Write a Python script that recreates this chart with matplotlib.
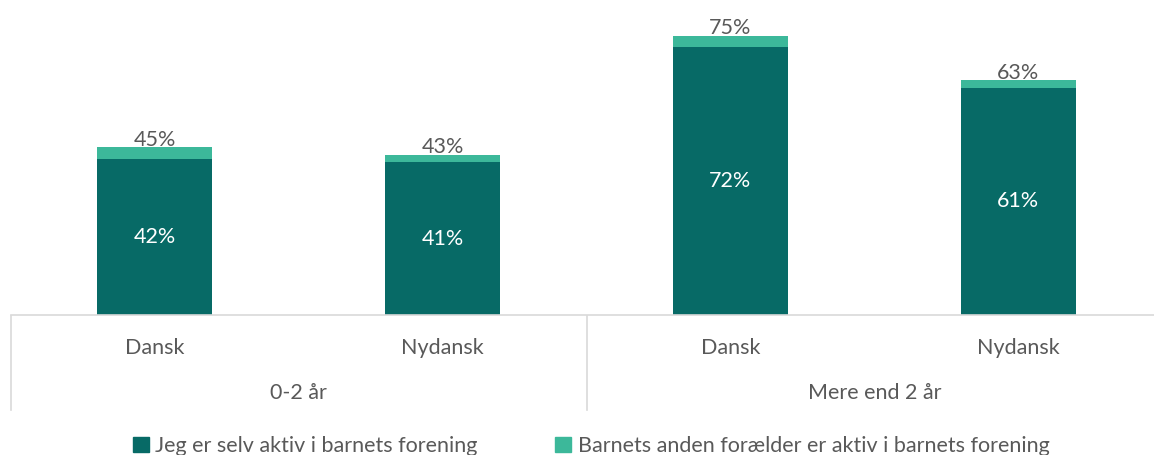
import matplotlib.pyplot as plt
from matplotlib.patches import Patch
from matplotlib.lines import Line2D

# data
grupper = ['0-2 år', 'Mere end 2 år']
kategorier = ['Dansk', 'Nydansk', 'Dansk', 'Nydansk']
selv_aktiv = [42, 41, 72, 61]
total = [45, 43, 75, 63]
serie_navne = ['Jeg er selv aktiv i barnets forening',
               'Barnets anden forælder er aktiv i barnets forening']

mork = '#076a66'
lys = '#3cb89a'
tekst = '#595959'
linje = '#d9d9d9'
fs = 15.5

plt.rcParams['font.family'] = ['Lato', 'DejaVu Sans']

fig = plt.figure(figsize=(11.54, 4.55), dpi=100)
W, H = 1154, 455
x0, x1 = 11, 1162
ax = fig.add_axes([x0 / W, 1 - 315 / H, (x1 - x0) / W, (315 - 17) / H])

anden = [t - s for t, s in zip(total, selv_aktiv)]
x = range(len(kategorier))
ax.bar(x, selv_aktiv, width=0.40, color=mork)
ax.bar(x, anden, bottom=selv_aktiv, width=0.40, color=lys)

for i in x:
    ax.text(i, selv_aktiv[i] / 2, f'{selv_aktiv[i]}%', ha='center', va='center',
            color='white', fontsize=fs)
    ax.text(i, total[i] - 0.6, f'{total[i]}%', ha='center', va='bottom',
            color=tekst, fontsize=fs)

ax.set_xlim(-0.5, 3.5)
ax.set_ylim(0, 80)
ax.set_xticks([])
ax.set_yticks([])
for side in ['top', 'right', 'left']:
    ax.spines[side].set_visible(False)
ax.spines['bottom'].set_color(linje)
ax.spines['bottom'].set_linewidth(1.2)

# kategori-etiketter og gruppe-etiketter
for i, k in enumerate(kategorier):
    px = x0 + (i + 0.5) * (x1 - x0) / 4
    fig.text(px / W, 1 - 348 / H, k, ha='center', va='center', color=tekst, fontsize=fs)
for j, g in enumerate(grupper):
    px = x0 + (j + 0.5) * (x1 - x0) / 2
    fig.text(px / W, 1 - 393 / H, g, ha='center', va='center', color=tekst, fontsize=fs)

for px in [x0, (x0 + x1) / 2]:
    fig.add_artist(Line2D([px / W, px / W], [1 - 316 / H, 1 - 410 / H],
                          color=linje, linewidth=1.2))

handles = [Patch(color=mork), Patch(color=lys)]
fig.legend(handles, serie_navne, loc='center', bbox_to_anchor=(591 / W, 1 - 446 / H),
           ncol=2, frameon=False, fontsize=fs, labelcolor=tekst,
           handlelength=0.75, handleheight=0.75, handletextpad=0.3, columnspacing=3.6)

fig.savefig('out.png', dpi=100)
